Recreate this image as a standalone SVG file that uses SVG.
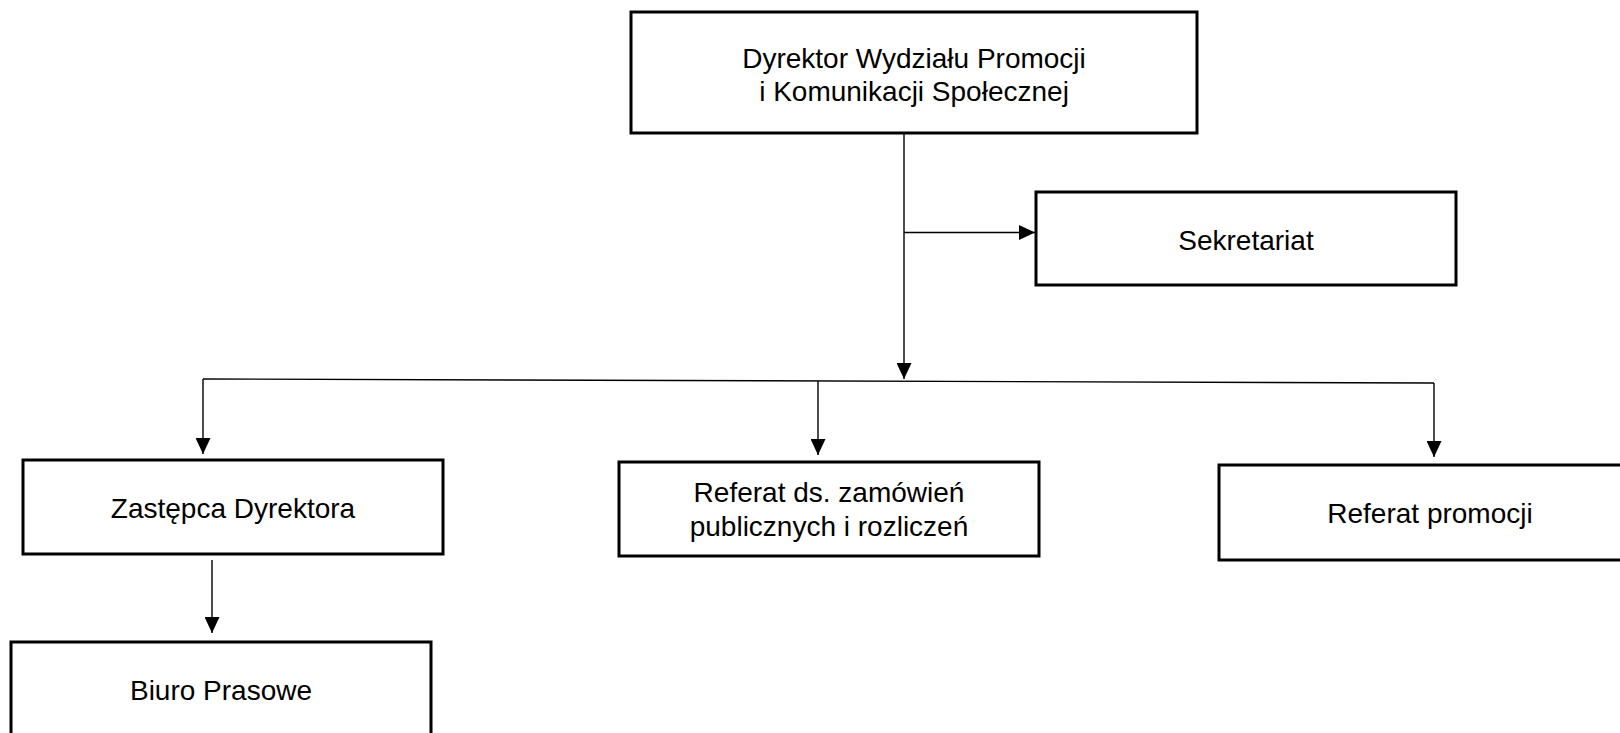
<svg xmlns="http://www.w3.org/2000/svg" width="1620" height="733" viewBox="0 0 1620 733">
<style>
.box{fill:#fff;stroke:#000;stroke-width:3}
.lbl{font-family:"Liberation Sans",Arial,sans-serif;font-size:28px;fill:#000;text-anchor:middle}
.con{fill:none;stroke:#000;stroke-width:1.4}
</style>
<defs>
<marker id="arr" markerUnits="userSpaceOnUse" markerWidth="16" markerHeight="15" refX="16" refY="7.5" orient="auto" viewBox="0 0 16 15">
<path d="M0,0 L16,7.5 L0,15 z" fill="#000"/>
</marker>
</defs>
<rect width="1620" height="733" fill="#fff"/>
<g id="connectors">
<line class="con" x1="904" y1="134" x2="904" y2="379" marker-end="url(#arr)"/>
<line class="con" x1="904" y1="232.5" x2="1035" y2="232.5" marker-end="url(#arr)"/>
<line class="con" x1="203" y1="379" x2="1434" y2="383"/>
<line class="con" x1="203" y1="379" x2="203" y2="454" marker-end="url(#arr)"/>
<line class="con" x1="818" y1="381" x2="818" y2="455" marker-end="url(#arr)"/>
<line class="con" x1="1434" y1="383" x2="1434" y2="457" marker-end="url(#arr)"/>
<line class="con" x1="212" y1="560" x2="212" y2="633" marker-end="url(#arr)"/>
</g>
<g id="dyrektor">
<rect class="box" x="631" y="12" width="566" height="121"/>
<text class="lbl" x="914" y="68">Dyrektor Wydziału Promocji</text>
<text class="lbl" x="914" y="101">i Komunikacji Społecznej</text>
</g>
<g id="sekretariat">
<rect class="box" x="1036" y="192" width="420" height="93"/>
<text class="lbl" x="1246" y="250">Sekretariat</text>
</g>
<g id="zastepca">
<rect class="box" x="23" y="460" width="420" height="94"/>
<text class="lbl" x="233" y="518">Zastępca Dyrektora</text>
</g>
<g id="zamowienia">
<rect class="box" x="619" y="462" width="420" height="94"/>
<text class="lbl" x="829" y="502">Referat ds. zamówień</text>
<text class="lbl" x="829" y="536">publicznych i rozliczeń</text>
</g>
<g id="promocja">
<rect class="box" x="1219" y="465" width="421" height="95"/>
<text class="lbl" x="1430" y="523">Referat promocji</text>
</g>
<g id="biuro">
<rect class="box" x="11" y="642" width="420" height="100"/>
<text class="lbl" x="221" y="700">Biuro Prasowe</text>
</g>
</svg>
